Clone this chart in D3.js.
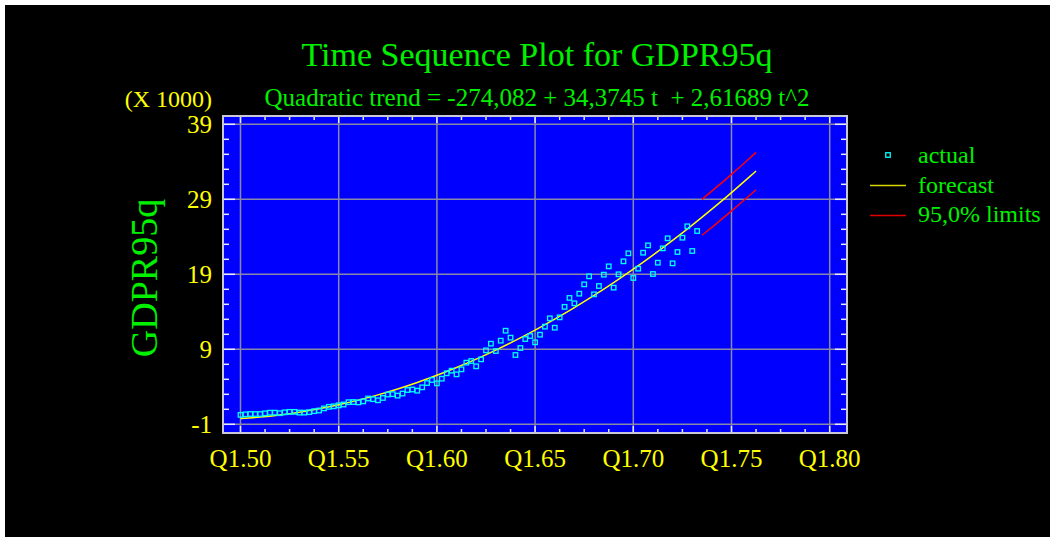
<!DOCTYPE html>
<html><head><meta charset="utf-8">
<script src="https://cdn.jsdelivr.net/npm/d3@7"></script>
<style>
html,body{margin:0;padding:0;background:#fff;}
svg{display:block;}
text{font-family:"Liberation Serif","Times New Roman",serif;}
</style></head><body>
<svg id="chart" width="1053" height="540"></svg>
<script>
// ---- data ----
const startYear = 1950; // first quarter: Q1 1950 (t = 1)
const actual = [260,330,370,370,370,460,550,550,480,600,
  660,660,560,560,620,750,840,1120,1330,1400,
  1530,1640,1950,1970,1920,2060,2440,2350,2200,2510,
  2970,3020,2820,3100,3570,3640,3480,3930,4500,4910,
  4460,5080,5800,6150,5660,6330,7220,7440,6730,7660,
  8860,9750,8770,10150,11480,10550,8240,9170,10370,10770,
  9930,10950,12020,13130,11880,13260,14660,15850,15130,16420,
  17660,18730,16330,17440,18950,20060,17220,19000,20730,21800,
  18510,19750,21880,22860,19040,20550,22460,23800,20460,21970,
  23880,25400,22110,24770];
const trendQuarter = [1,5,9,13,17,21,25,29,33,37,41,45,49,53,57,61,65,69,73,77,81,85,89,93,97,101,105,106];
const trendValues = [-237,-37,247,615,1067,1602,2221,2924,3710,4580,5534,6572,7693,8899,10188,11560,
  13017,14557,16181,17888,19680,21555,23514,25556,27683,29893,32186,32773];
const limitQuarter = [95,96,97,98,99,100,101,102,103,104,105,106];
const upperLimit = [29000,29550,30100,30650,31200,31760,32330,32900,33480,34070,34660,35260];
const lowerLimit = [24210,24740,25260,25790,26350,26900,27450,28010,28580,29140,29710,30280];
const xTickYears = [1950,1955,1960,1965,1970,1975,1980];
const xTickLabels = ["Q1.50","Q1.55","Q1.60","Q1.65","Q1.70","Q1.75","Q1.80"];
const yTickValues = [-1000,9000,19000,29000,39000];
const yTickLabels = ["-1","9","19","29","39"];
const legendLabels = ["actual","forecast","95,0% limits"];

// ---- layout ----
const svg = d3.select("#chart");
const P = {l:223, r:847, t:116, b:433};
const qYear = t => startYear + (t-1)/4;
const x = d3.scaleLinear().domain([1949.109, 1980.881]).range([P.l, P.r]);
const y = d3.scaleLinear().domain([-2160, 40107]).range([P.b, P.t]);

const GREEN = "#00f000", YELLOW = "#ffff00", CYAN = "#00ffff", RED = "#ff0000";

svg.append("rect").attr("x",5).attr("y",5).attr("width",1045).attr("height",532).attr("fill","#000");

// titles
svg.append("text").attr("x",537).attr("y",66).attr("text-anchor","middle")
  .attr("font-size",34).attr("fill",GREEN).text("Time Sequence Plot for GDPR95q");
svg.append("text").attr("x",537).attr("y",106).attr("text-anchor","middle")
  .attr("font-size",25).attr("fill",GREEN).style("white-space","pre")
  .text("Quadratic trend = -274,082 + 34,3745 t  + 2,61689 t^2");
svg.append("text").attr("x",212).attr("y",107).attr("text-anchor","end")
  .attr("font-size",24).attr("fill",YELLOW).text("(X 1000)");
svg.append("text").attr("transform","translate(157,278) rotate(-90)").attr("text-anchor","middle")
  .attr("font-size",38).attr("fill",GREEN).text("GDPR95q");

// plot area
svg.append("rect").attr("x",P.l).attr("y",P.t).attr("width",P.r-P.l).attr("height",P.b-P.t).attr("fill","#0000ff");

// grid
const grid = svg.append("g").attr("stroke","#8888a8").attr("stroke-width",1.5);
grid.selectAll("line.v").data(xTickYears).join("line")
  .attr("x1",d=>x(d)).attr("x2",d=>x(d)).attr("y1",P.t).attr("y2",P.b);
grid.selectAll("line.h").data(yTickValues).join("line")
  .attr("x1",P.l).attr("x2",P.r).attr("y1",d=>y(d)).attr("y2",d=>y(d));

// ticks (inward)
const tickG = svg.append("g").attr("stroke","#e8e8ff").attr("stroke-width",1.5);
const yMinor = d3.range(-1000, 40000, 2000);
yMinor.forEach(v=>{
  const major = yTickValues.includes(v);
  const len = major ? 12 : 6;
  tickG.append("line").attr("x1",P.l).attr("x2",P.l+len).attr("y1",y(v)).attr("y2",y(v));
  tickG.append("line").attr("x1",P.r).attr("x2",P.r-len).attr("y1",y(v)).attr("y2",y(v));
});
const xMinor = d3.range(0, 25).map(i => 1950 + i*1.25).filter(v => v <= 1980.5);
xMinor.forEach(v=>{
  const major = xTickYears.includes(v);
  const len = major ? 7 : 4;
  tickG.append("line").attr("x1",x(v)).attr("x2",x(v)).attr("y1",P.b).attr("y2",P.b-len);
  tickG.append("line").attr("x1",x(v)).attr("x2",x(v)).attr("y1",P.t).attr("y2",P.t+len);
});

// frame
svg.append("rect").attr("x",P.l).attr("y",P.t).attr("width",P.r-P.l).attr("height",P.b-P.t)
  .attr("fill","none").attr("stroke","#c8c8d8").attr("stroke-width",2);

// tick labels
svg.append("g").selectAll("text").data(xTickYears).join("text")
  .attr("x",d=>x(d)).attr("y",467).attr("text-anchor","middle").attr("font-size",25).attr("fill",YELLOW)
  .text((d,i)=>xTickLabels[i]);
svg.append("g").selectAll("text").data(yTickValues).join("text")
  .attr("x",212).attr("y",d=>y(d)+8.5).attr("text-anchor","end").attr("font-size",25).attr("fill",YELLOW)
  .text((d,i)=>yTickLabels[i]);

// clip
svg.append("clipPath").attr("id","clip").append("rect")
  .attr("x",P.l).attr("y",P.t).attr("width",P.r-P.l).attr("height",P.b-P.t);
const plot = svg.append("g").attr("clip-path","url(#clip)");

// trend / forecast
plot.append("path").datum(trendQuarter.map((t,i)=>[t,trendValues[i]]))
  .attr("d", d3.line().x(d=>x(qYear(d[0]))).y(d=>y(d[1])).curve(d3.curveNatural))
  .attr("fill","none").attr("stroke",YELLOW).attr("stroke-width",1.5);

// limits
[upperLimit, lowerLimit].forEach(arr=>{
  plot.append("path").datum(limitQuarter.map((t,i)=>[t,arr[i]]))
    .attr("d", d3.line().x(d=>x(qYear(d[0]))).y(d=>y(d[1])))
    .attr("fill","none").attr("stroke",RED).attr("stroke-width",1.5);
});

// actual points
plot.append("g").selectAll("rect").data(actual).join("rect")
  .attr("x",(d,i)=>x(qYear(i+1))-2.25).attr("y",d=>y(d)-2.25).attr("width",4.5).attr("height",4.5)
  .attr("fill","none").attr("stroke",CYAN).attr("stroke-width",1.3);

// legend
const lg = svg.append("g");
lg.append("rect").attr("x",885.75).attr("y",152.75).attr("width",4.5).attr("height",4.5)
  .attr("fill","none").attr("stroke",CYAN).attr("stroke-width",1.3);
lg.append("line").attr("x1",870).attr("x2",906).attr("y1",185.5).attr("y2",185.5).attr("stroke","#d8d800").attr("stroke-width",1.5);
lg.append("line").attr("x1",870).attr("x2",906).attr("y1",215.5).attr("y2",215.5).attr("stroke","#e00000").attr("stroke-width",1.5);
lg.selectAll("text").data(legendLabels).join("text")
  .attr("x",918).attr("y",(d,i)=>163+i*29.7).attr("font-size",24).attr("fill",GREEN).text(d=>d);
</script>
</body></html>
